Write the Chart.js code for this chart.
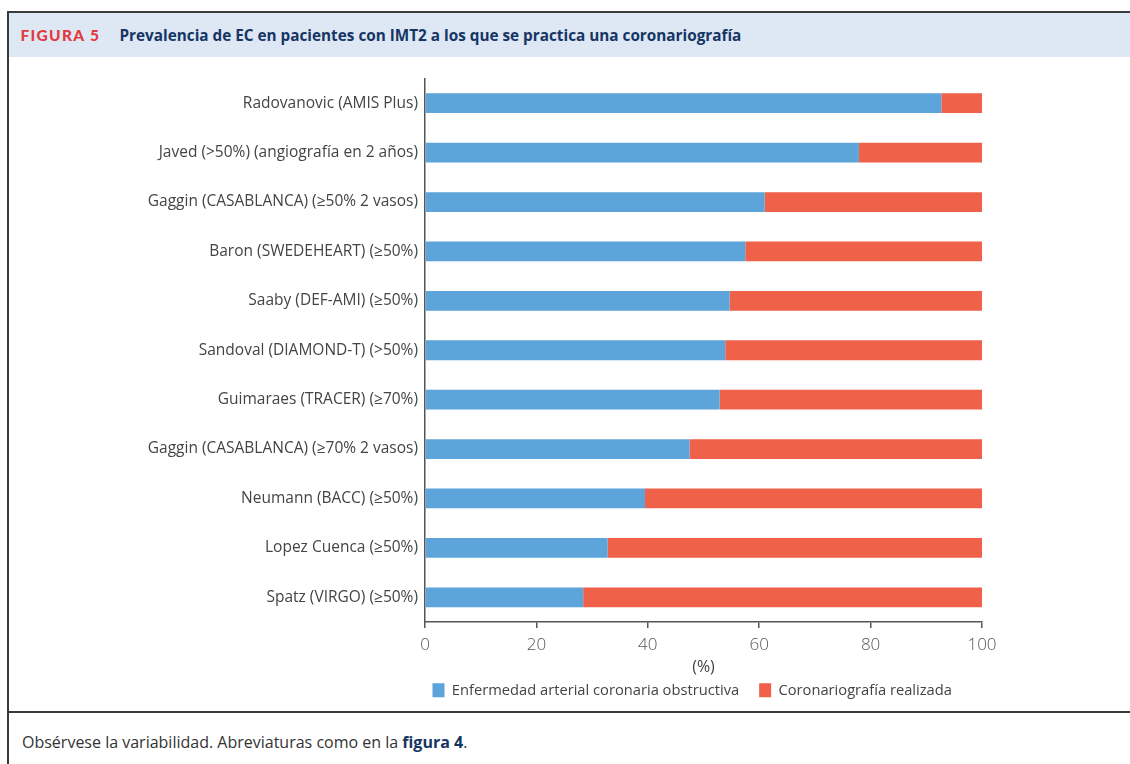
<!DOCTYPE html>
<html lang="es">
<head>
<meta charset="utf-8">
<script src="https://cdn.jsdelivr.net/npm/chart.js@4.4.1/dist/chart.umd.min.js"></script>
<style>
html,body{margin:0;padding:0;background:#fff;width:1130px;height:764px;overflow:hidden;font-family:"Open Sans",Lato,sans-serif;}
#topline{position:absolute;left:7px;top:11px;width:1123px;height:2px;background:#3a3a3a;}
#leftline{position:absolute;left:7px;top:11px;width:1.5px;height:753px;background:#3a3a3a;}
#header{position:absolute;left:8.5px;top:13px;width:1122px;height:44px;background:#dde8f4;}
#header .fig{position:absolute;left:12px;top:0;line-height:44px;font-family:Lato,sans-serif;font-weight:900;font-size:15.5px;letter-spacing:1.3px;color:#e23b3f;}
#header .ttl{position:absolute;left:111px;top:0;line-height:44px;font-weight:700;font-size:15.3px;color:#163564;}
#sepline{position:absolute;left:7px;top:711px;width:1123px;height:1.5px;background:#3a3a3a;}
#footer{position:absolute;left:22px;top:731px;font-size:16px;color:#333;}
#footer b{color:#163564;}
#wrap{position:absolute;left:8px;top:58px;width:1122px;height:653px;}
</style>
</head>
<body>
<div id="topline"></div>
<div id="header"><span class="fig">FIGURA 5</span><span class="ttl">Prevalencia de EC en pacientes con IMT2 a los que se practica una coronariografía</span></div>
<div id="leftline"></div>
<div id="wrap"><canvas id="c"></canvas></div>
<div id="sepline"></div>
<div id="footer">Obsérvese la variabilidad. Abreviaturas como en la <b>figura 4</b>.</div>
<script>
const categories = [
  "Radovanovic (AMIS Plus)",
  "Javed (>50%) (angiografía en 2 años)",
  "Gaggin (CASABLANCA) (≥50% 2 vasos)",
  "Baron (SWEDEHEART) (≥50%)",
  "Saaby (DEF-AMI) (≥50%)",
  "Sandoval (DIAMOND-T) (>50%)",
  "Guimaraes (TRACER) (≥70%)",
  "Gaggin (CASABLANCA) (≥70% 2 vasos)",
  "Neumann (BACC) (≥50%)",
  "Lopez Cuenca (≥50%)",
  "Spatz (VIRGO) (≥50%)"
];
const seriesNames = ["Enfermedad arterial coronaria obstructiva", "Coronariografía realizada"];
const obstructiveValues = [92.7, 77.9, 61.0, 57.5, 54.7, 53.9, 52.9, 47.5, 39.5, 32.8, 28.4];
const angiographyRest   = [7.3, 22.1, 39.0, 42.5, 45.3, 46.1, 47.1, 52.5, 60.5, 67.2, 71.6];
const xTicks = [0, 20, 40, 60, 80, 100];
const xAxisTitle = "(%)";

const legendPlacer = {
  id: 'legendPlacer',
  afterLayout(chart) {
    const l = chart.legend;
    const a = chart.chartArea;
    const pad = l.options.labels.padding;
    l.left = a.left + 7.5 - pad;
    l.right = chart.width;
    l.top = a.bottom + 70 - pad - 9;
    l.bottom = l.top + 50;
    l.width = l.right - l.left;
    l.height = l.bottom - l.top;
  }
};

new Chart(document.getElementById('c'), {
  type: 'bar',
  data: {
    labels: categories,
    datasets: [
      { label: seriesNames[0], data: obstructiveValues, backgroundColor: '#5ca4d9', borderWidth: 0 },
      { label: seriesNames[1], data: angiographyRest, backgroundColor: '#f0614a', borderWidth: 0 }
    ]
  },
  options: {
    indexAxis: 'y',
    responsive: true,
    maintainAspectRatio: false,
    animation: false,
    layout: { padding: { top: 20.5, right: 148, bottom: 0, left: 0 } },
    datasets: { bar: { barPercentage: 0.4, categoryPercentage: 1.0 } },
    plugins: {
      legend: {
        position: 'bottom',
        align: 'start',
        maxHeight: 1,
        labels: {
          boxWidth: 12, boxHeight: 14, padding: 20,
          color: '#444', font: { family: 'Open Sans', size: 14.7 }
        }
      },
      tooltip: { enabled: false }
    },
    scales: {
      x: {
        stacked: true, min: 0, max: 100,
        afterBuildTicks(scale) { scale.ticks = xTicks.map(v => ({ value: v })); },
        afterFit(scale) { scale.height = 88; },
        border: { display: true, color: '#555', width: 1.5 },
        grid: { drawOnChartArea: false, drawTicks: true, tickLength: 6, color: '#555', lineWidth: 1.5 },
        ticks: { padding: 7, color: '#555', font: { family: 'Open Sans', size: 17, weight: 300 } },
        title: { display: true, text: xAxisTitle, color: '#444', font: { family: 'Open Sans', size: 16 }, padding: { top: 0, bottom: 33 } }
      },
      y: {
        stacked: true,
        afterFit(scale) { scale.width = 417; },
        border: { display: true, color: '#555', width: 1.5 },
        grid: { display: false, drawTicks: false, tickLength: 0 },
        ticks: { padding: 7, color: '#444', font: { family: 'Open Sans', size: 15.5 } }
      }
    }
  },
  plugins: [legendPlacer]
});
</script>
</body>
</html>
